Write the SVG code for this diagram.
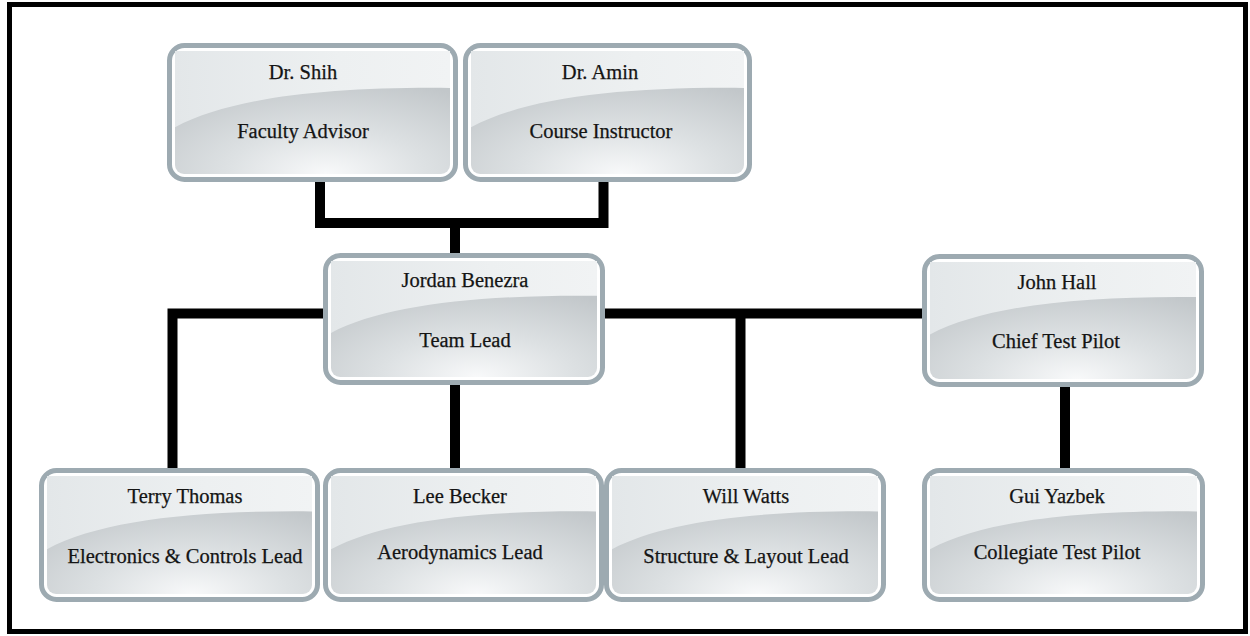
<svg xmlns="http://www.w3.org/2000/svg" xmlns:xlink="http://www.w3.org/1999/xlink" width="1250" height="636" viewBox="0 0 1250 636" font-family="'Liberation Serif', 'Times New Roman', Times, serif">
<style>
.frame{fill:#ffffff;stroke:#000000;stroke-width:5}
.outer{fill:#ffffff;stroke:#9daab1;stroke-width:5}
.inner{fill:url(#base)}
.gloss{fill:url(#glossG)}
.conn{fill:none;stroke:#000000;stroke-width:10;stroke-linecap:butt;stroke-linejoin:miter}
.t{font-size:20.5px;fill:#141414;stroke:#141414;stroke-width:0.25;text-anchor:middle}
</style>
<defs>
<radialGradient id="base" cx="0.55" cy="1" r="0.8" fx="0.55" fy="1">
<stop offset="0" stop-color="#f8f9fa"/>
<stop offset="0.45" stop-color="#dde1e3"/>
<stop offset="1" stop-color="#c2c7ca"/>
</radialGradient>
<linearGradient id="glossG" x1="0" y1="0" x2="1" y2="0">
<stop offset="0" stop-color="#e3e7e9"/>
<stop offset="0.6" stop-color="#edf0f1"/>
<stop offset="1" stop-color="#f1f3f4"/>
</linearGradient>
<path id="gl" d="M0,0 H1 V0.3 C0.55,0.29 0.2,0.38 0,0.62 Z"/>
</defs>
<rect class="frame" x="9.5" y="4.5" width="1236" height="627"/>
<g id="connectors">
<path class="conn" d="M320,182 V223 H603.5 V182"/>
<path class="conn" d="M455,223 V253"/>
<path class="conn" d="M172.5,468 V313.5 H323"/>
<path class="conn" d="M605,313.5 H922"/>
<path class="conn" d="M740.5,313.5 V468"/>
<path class="conn" d="M455,385 V468"/>
<path class="conn" d="M1065,387 V468"/>
</g>
<g id="shih">
<rect class="outer" x="169.5" y="45.5" width="286" height="134" rx="15"/>
<rect class="inner" x="175" y="51" width="275" height="123" rx="9"/>
<use class="gloss" xlink:href="#gl" transform="translate(175,51) scale(275,123)"/>
<text class="t" x="303" y="79">Dr. Shih</text>
<text class="t" x="303" y="138">Faculty Advisor</text>
</g>
<g id="amin">
<rect class="outer" x="465.5" y="45.5" width="284" height="134" rx="15"/>
<rect class="inner" x="471" y="51" width="273" height="123" rx="9"/>
<use class="gloss" xlink:href="#gl" transform="translate(471,51) scale(273,123)"/>
<text class="t" x="600" y="79">Dr. Amin</text>
<text class="t" x="601" y="138">Course Instructor</text>
</g>
<g id="jordan">
<rect class="outer" x="325.5" y="255.5" width="277" height="127" rx="15"/>
<rect class="inner" x="331" y="261" width="266" height="116" rx="9"/>
<use class="gloss" xlink:href="#gl" transform="translate(331,261) scale(266,116)"/>
<text class="t" x="465" y="287">Jordan Benezra</text>
<text class="t" x="465" y="347">Team Lead</text>
</g>
<g id="john">
<rect class="outer" x="924.5" y="256.5" width="277" height="128" rx="15"/>
<rect class="inner" x="930" y="262" width="266" height="117" rx="9"/>
<use class="gloss" xlink:href="#gl" transform="translate(930,262) scale(266,117)"/>
<text class="t" x="1057" y="289">John Hall</text>
<text class="t" x="1056" y="348">Chief Test Pilot</text>
</g>
<g id="terry">
<rect class="outer" x="41.5" y="470.5" width="276" height="129" rx="15"/>
<rect class="inner" x="47" y="476" width="265" height="118" rx="9"/>
<use class="gloss" xlink:href="#gl" transform="translate(47,476) scale(265,118)"/>
<text class="t" x="185" y="503">Terry Thomas</text>
<text class="t" x="185" y="563">Electronics &amp; Controls Lead</text>
</g>
<g id="lee">
<rect class="outer" x="325.5" y="470.5" width="276" height="129" rx="15"/>
<rect class="inner" x="331" y="476" width="265" height="118" rx="9"/>
<use class="gloss" xlink:href="#gl" transform="translate(331,476) scale(265,118)"/>
<text class="t" x="460" y="503">Lee Becker</text>
<text class="t" x="460" y="559">Aerodynamics Lead</text>
</g>
<g id="will">
<rect class="outer" x="606.5" y="470.5" width="277" height="129" rx="15"/>
<rect class="inner" x="612" y="476" width="266" height="118" rx="9"/>
<use class="gloss" xlink:href="#gl" transform="translate(612,476) scale(266,118)"/>
<text class="t" x="746" y="503">Will Watts</text>
<text class="t" x="746" y="563">Structure &amp; Layout Lead</text>
</g>
<g id="gui">
<rect class="outer" x="924.5" y="470.5" width="278" height="129" rx="15"/>
<rect class="inner" x="930" y="476" width="267" height="118" rx="9"/>
<use class="gloss" xlink:href="#gl" transform="translate(930,476) scale(267,118)"/>
<text class="t" x="1057" y="503">Gui Yazbek</text>
<text class="t" x="1057" y="559">Collegiate Test Pilot</text>
</g>
</svg>
